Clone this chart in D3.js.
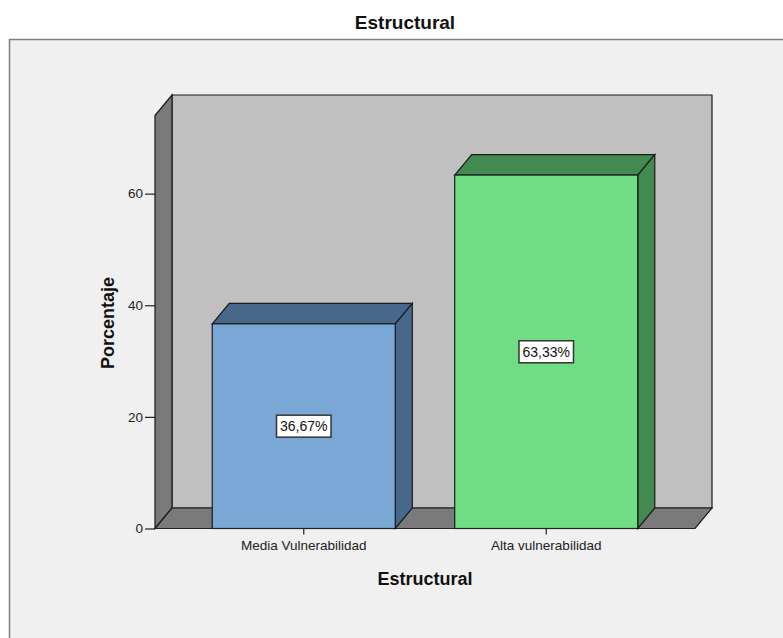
<!DOCTYPE html>
<html><head><meta charset="utf-8">
<script src="https://cdn.jsdelivr.net/npm/d3@7"></script>
<style>html,body{margin:0;padding:0;background:#fff;}svg{display:block;font-family:"Liberation Sans",Arial,sans-serif;}</style>
</head><body>
<script>
const categories = ["Media Vulnerabilidad", "Alta vulnerabilidad"];
const values = [36.67, 63.33];
const valueLabels = ["36,67%", "63,33%"];
const yTicks = [0, 20, 40, 60];
const frontColors = ["#79a7d6", "#70dd84"];
const darkColors = ["#47688a", "#438a51"];
const title = "Estructural";
const xTitle = "Estructural";
const yTitle = "Porcentaje";

const W = 783, H = 638;
const svg = d3.select("body").append("svg").attr("width", W).attr("height", H);

// frame
svg.append("rect").attr("x", 9.5).attr("y", 39.5).attr("width", W).attr("height", H)
  .attr("fill", "#f0f0f0").attr("stroke", "#808080").attr("stroke-width", 1.5);

const x = d3.scaleBand().domain(categories).range([155, 695]).paddingInner(0.245).paddingOuter(0.236);
const y = d3.scaleLinear().domain([0, 74]).range([528.5, 115.5]);
const dx = 17, dy = -20.5;
const x0 = 155, x1 = 695, y0 = y(0), yTop = y(74);

const line = d3.line();
const stroke = "#1a1a1a";
// back wall
svg.append("path").attr("d", line([[x0+dx, yTop+dy],[x1+dx, yTop+dy],[x1+dx, y0+dy],[x0+dx, y0+dy]]) + "Z")
  .attr("fill", "#c0c0c0").attr("stroke", stroke).attr("stroke-width", 1.2);
// left wall
svg.append("path").attr("d", line([[x0, yTop],[x0+dx, yTop+dy],[x0+dx, y0+dy],[x0, y0]]) + "Z")
  .attr("fill", "#7a7a7a").attr("stroke", stroke).attr("stroke-width", 1.2);
// floor
svg.append("path").attr("d", line([[x0, y0],[x0+dx, y0+dy],[x1+dx, y0+dy],[x1, y0]]) + "Z")
  .attr("fill", "#7a7a7a").attr("stroke", stroke).attr("stroke-width", 1.2);

// bars
const bars = svg.append("g");
categories.forEach((c, i) => {
  const bx = x(c), bw = x.bandwidth(), by = y(values[i]);
  const g = bars.append("g");
  g.append("path").attr("d", line([[bx, by],[bx+dx, by+dy],[bx+bw+dx, by+dy],[bx+bw, by]]) + "Z")
    .attr("fill", darkColors[i]).attr("stroke", stroke).attr("stroke-width", 1.2);
  g.append("path").attr("d", line([[bx+bw, by],[bx+bw+dx, by+dy],[bx+bw+dx, y0+dy],[bx+bw, y0]]) + "Z")
    .attr("fill", darkColors[i]).attr("stroke", stroke).attr("stroke-width", 1.2);
  g.append("rect").attr("x", bx).attr("y", by).attr("width", bw).attr("height", y0 - by)
    .attr("fill", frontColors[i]).attr("stroke", stroke).attr("stroke-width", 1.2);
});

// axes
const yAxis = svg.append("g").attr("transform", `translate(${x0},0)`)
  .call(d3.axisLeft(y).tickValues(yTicks).tickSize(10).tickPadding(2).tickFormat(d3.format("d")));
yAxis.select(".domain").remove();
yAxis.selectAll("line").attr("stroke", "#222").attr("stroke-width", 1.2);
yAxis.selectAll("text").attr("font-size", 13.5).attr("fill", "#222").attr("font-family", "Liberation Sans, Arial, sans-serif");

const xAxis = svg.append("g").attr("transform", `translate(0,${y0})`)
  .call(d3.axisBottom(x).tickSize(6).tickPadding(6));
xAxis.select(".domain").attr("d", `M${x0},0H${x1}`).attr("stroke", "#222").attr("stroke-width", 1.2);
xAxis.selectAll("line").attr("stroke", "#222").attr("stroke-width", 1.2);
xAxis.selectAll("text").attr("font-size", 13.5).attr("fill", "#222").attr("font-family", "Liberation Sans, Arial, sans-serif");

// value labels
categories.forEach((c, i) => {
  const cx = x(c) + x.bandwidth() / 2, cy = y(values[i] / 2);
  const g = svg.append("g");
  const t = g.append("text").attr("x", cx).attr("y", cy).attr("text-anchor", "middle")
    .attr("dominant-baseline", "central").attr("font-size", 14).attr("fill", "#111").text(valueLabels[i]);
  const bb = t.node().getBBox();
  g.insert("rect", "text").attr("x", bb.x - 3.5).attr("y", cy - 11).attr("width", bb.width + 7).attr("height", 22)
    .attr("fill", "#fff").attr("stroke", "#333").attr("stroke-width", 1.5);
});

// titles
svg.append("text").attr("x", 405).attr("y", 29).attr("text-anchor", "middle")
  .attr("font-size", 19).attr("font-weight", "bold").attr("fill", "#111").text(title);
svg.append("text").attr("x", 425).attr("y", 585).attr("text-anchor", "middle")
  .attr("font-size", 18).attr("font-weight", "bold").attr("fill", "#111").text(xTitle);
svg.append("text").attr("transform", "translate(114,323) rotate(-90)").attr("text-anchor", "middle")
  .attr("font-size", 18).attr("font-weight", "bold").attr("fill", "#111").text(yTitle);
</script>
</body></html>
